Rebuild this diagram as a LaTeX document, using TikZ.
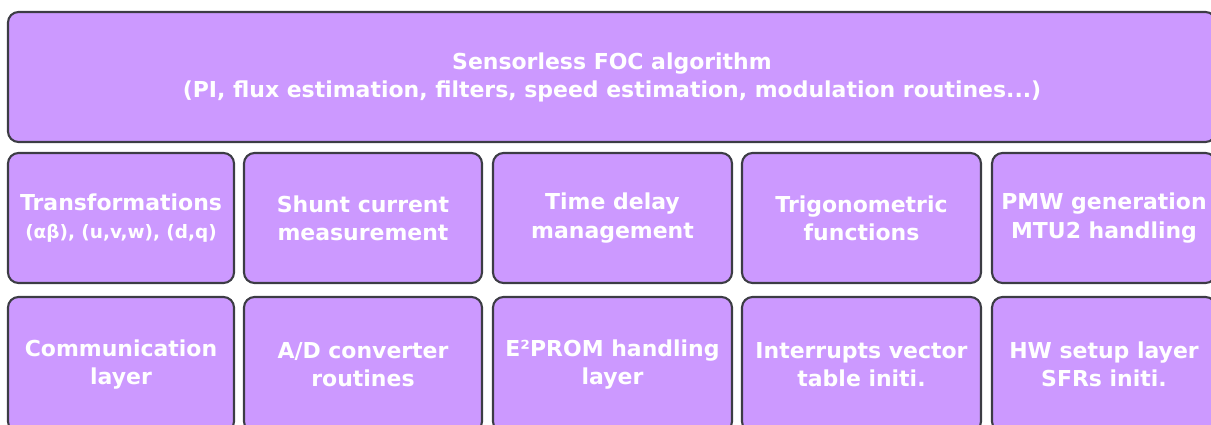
\documentclass[tikz,border=0pt]{standalone}
\usepackage{fontspec}
\setmainfont{DejaVu Sans}
\usepackage{tikz}
\usetikzlibrary{positioning}
\definecolor{boxlilac}{HTML}{CC99FF}
\definecolor{boxedge}{HTML}{3C3C44}

\begin{document}
\begin{tikzpicture}[
      layer/.style={draw=boxedge, line width=1.2pt, fill=boxlilac,
                    rounded corners=6pt, text=white, align=center,
                    inner sep=0pt, minimum height=2.6cm,
                    font=\bfseries\fontsize{12.5}{16}\selectfont}
    ]
      \useasboundingbox (0,0) rectangle (24.22,-8.48);
      \clip (0,0) rectangle (24.22,-8.48);

      % algorithm layer
      \node[layer, minimum width=24.16cm] (foc) at (12.24,-1.54)
        {Sensorless FOC algorithm\\(PI, flux estimation, filters, speed estimation, modulation routines...)};

      % middle row
      \node[layer, minimum width=4.52cm] (trans) at (2.42,-4.36)
        {Transformations\\{\fontsize{10.5}{12}\selectfont (αβ), (u,v,w), (d,q)}};
      \node[layer, minimum width=4.76cm] (shunt) at (7.26,-4.36)
        {Shunt current\\measurement};
      \node[layer, minimum width=4.78cm] (delay) at (12.25,-4.36)
        {Time delay\\management};
      \node[layer, minimum width=4.78cm] (trig) at (17.23,-4.36)
        {Trigonometric\\functions};
      \node[layer, minimum width=4.48cm] (pwm) at (22.08,-4.36)
        {PMW generation\\MTU2 handling};

      % bottom row
      \node[layer, minimum width=4.52cm, minimum height=2.7cm] (comm) at (2.42,-7.29)
        {Communication\\layer};
      \node[layer, minimum width=4.76cm, minimum height=2.7cm] (adc) at (7.26,-7.29)
        {A/D converter\\routines};
      \node[layer, minimum width=4.78cm, minimum height=2.7cm] (eeprom) at (12.25,-7.29)
        {E²PROM handling\\layer};
      \node[layer, minimum width=4.78cm, minimum height=2.7cm] (irq) at (17.23,-7.29)
        {Interrupts vector\\table initi.};
      \node[layer, minimum width=4.48cm, minimum height=2.7cm] (hwset) at (22.08,-7.29)
        {HW setup layer\\SFRs initi.};
    \end{tikzpicture}
\end{document}
